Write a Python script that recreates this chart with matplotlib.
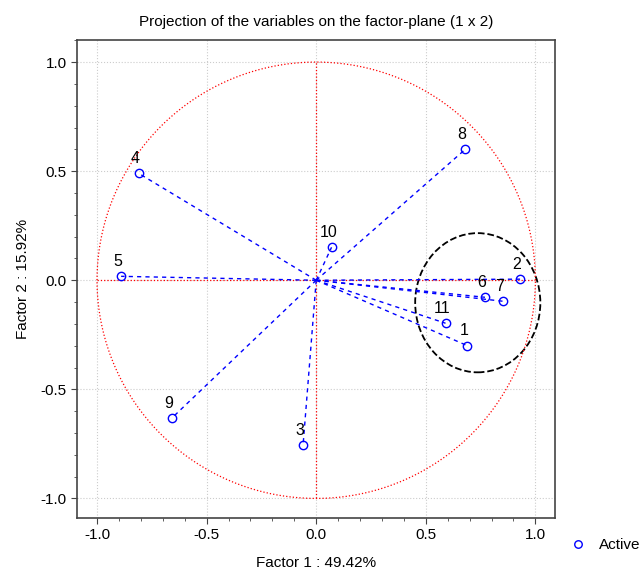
import numpy as np
import matplotlib
matplotlib.use("Agg")
import matplotlib.pyplot as plt
from matplotlib.patches import Ellipse
from matplotlib.ticker import MultipleLocator

plt.rcParams['font.family'] = ['Liberation Sans', 'DejaVu Sans']

# factor loadings
labels = ['1', '2', '3', '4', '5', '6', '7', '8', '9', '10', '11']
f1 = [0.69, 0.93, -0.06, -0.81, -0.89, 0.77, 0.85, 0.68, -0.66, 0.07, 0.59]
f2 = [-0.30, 0.005, -0.757, 0.49, 0.018, -0.078, -0.096, 0.60, -0.633, 0.151, -0.197]

fig = plt.figure(figsize=(6.44, 5.75), dpi=100)
ax = fig.add_axes([0.12, 0.099, 0.742, 0.831])

# unit circle + axes lines
t = np.linspace(0, 2 * np.pi, 400)
ax.plot(np.cos(t), np.sin(t), color='red', ls=':', lw=0.9)
ax.plot([-1, 1], [0, 0], color='red', ls=':', lw=0.9)
ax.plot([0, 0], [-1, 1], color='red', ls=':', lw=0.9)

for x, y in zip(f1, f2):
    ax.plot([0, x], [0, y], color='blue', ls='--', lw=1.0, dashes=(3, 3))
ax.plot(f1, f2, 'o', mfc='none', mec='blue', ms=6, mew=1.0, ls='none', label='Active')

for x, y, s in zip(f1, f2, labels):
    ax.text(x - 0.015, y + 0.035, s, ha='center', va='bottom', fontsize=11.5)

ax.add_patch(Ellipse((0.737, -0.103), 0.571, 0.638, fill=False, ec='black',
                     ls='--', lw=1.3))

ax.set_xlim(-1.09, 1.09)
ax.set_ylim(-1.09, 1.10)
ax.xaxis.set_major_locator(MultipleLocator(0.5))
ax.yaxis.set_major_locator(MultipleLocator(0.5))
ax.xaxis.set_minor_locator(MultipleLocator(0.1))
ax.yaxis.set_minor_locator(MultipleLocator(0.1))
ax.xaxis.set_major_formatter(matplotlib.ticker.FormatStrFormatter('%.1f'))
ax.yaxis.set_major_formatter(matplotlib.ticker.FormatStrFormatter('%.1f'))
ax.tick_params(which='major', length=4, labelsize=11, color='#444444')
ax.tick_params(which='minor', length=2.5, color='#444444')
ax.grid(True, which='major', color='#cccccc', ls=':', lw=0.8)
ax.set_axisbelow(True)
for sp in ax.spines.values():
    sp.set_color('#444444')
    sp.set_linewidth(1.2)

ax.set_title('Projection of the variables on the factor-plane (1 x 2)', fontsize=11, pad=10)
ax.set_xlabel('Factor 1 : 49.42%', fontsize=11, labelpad=10)
ax.set_ylabel('Factor 2 : 15.92%', fontsize=11, labelpad=8)

fig.legend(loc='center left', bbox_to_anchor=(0.852, 0.052), frameon=False,
           fontsize=11, handletextpad=0.4, markerscale=0.9)

fig.savefig('out.png', dpi=100)
